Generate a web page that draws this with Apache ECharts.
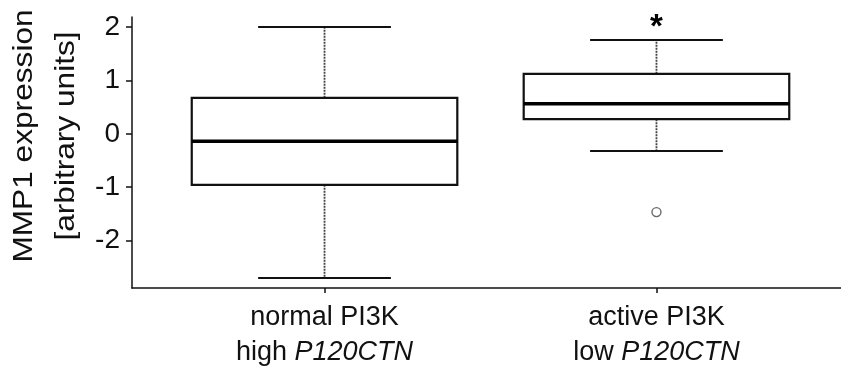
<!DOCTYPE html>
<html>
<head>
<meta charset="utf-8">
<script src="https://cdn.jsdelivr.net/npm/echarts@6/dist/echarts.min.js"></script>
<style>
  html, body { margin: 0; padding: 0; background: #fff; }
  #chart { width: 841px; height: 381px; }
</style>
</head>
<body>
<div id="chart"></div>
<script>
// Group labels: first line, plain start of second line, italic gene symbol
const groupLine1 = ['normal PI3K', 'active PI3K'];
const groupLine2 = ['high ', 'low '];
const groupGene = ['P120CTN', 'P120CTN'];
const groupPos = [1, 2];

// Box summaries per group
const lowerWhisker = [-2.70, -0.324];
const lowerQuartile = [-0.955, 0.275];
const medians = [-0.137, 0.562];
const upperQuartile = [0.674, 1.124];
const upperWhisker = [2.00, 1.755];

// Values beyond the whiskers: [group position, value]
const outliers = [[2, -1.466]];

// Significance marks above the groups: [group position, value, mark]
const signifMarks = [[2, 1.99, '*']];

const yTicks = [-2, -1, 0, 1, 2];

const FONT = '"Liberation Sans", Arial, sans-serif';

// Plot limits padded by 4% on each side, like base R graphics
const xLo = 0.5, xHi = groupPos.length + 0.5;
const xPad = (xHi - xLo) * 0.04;
const yDataMin = Math.min(...lowerWhisker, ...outliers.map(o => o[1]));
const yDataMax = Math.max(...upperWhisker);
const yPad = (yDataMax - yDataMin) * 0.04;

const boxRows = groupPos.map((p, i) => [
  p, lowerWhisker[i], lowerQuartile[i], medians[i], upperQuartile[i], upperWhisker[i]
]);

function renderBox(params, api) {
  const x = api.value(0);
  const pLo = api.coord([x, api.value(1)]);
  const pQ1 = api.coord([x, api.value(2)]);
  const pMd = api.coord([x, api.value(3)]);
  const pQ3 = api.coord([x, api.value(4)]);
  const pHi = api.coord([x, api.value(5)]);
  const cx = pMd[0];
  const boxW = api.size([0.8, 0])[0];
  const capW = api.size([0.4, 0])[0];
  const whisker = { stroke: '#444', lineWidth: 1.8, lineDash: [2, 1] };
  const solid = { stroke: '#111', lineWidth: 2 };
  return {
    type: 'group',
    children: [
      { type: 'line', shape: { x1: cx, y1: pQ3[1], x2: cx, y2: pHi[1] }, style: whisker },
      { type: 'line', shape: { x1: cx, y1: pQ1[1], x2: cx, y2: pLo[1] }, style: whisker },
      { type: 'line', shape: { x1: cx - capW / 2, y1: pHi[1], x2: cx + capW / 2, y2: pHi[1] }, style: solid },
      { type: 'line', shape: { x1: cx - capW / 2, y1: pLo[1], x2: cx + capW / 2, y2: pLo[1] }, style: solid },
      { type: 'rect', shape: { x: cx - boxW / 2, y: pQ3[1], width: boxW, height: pQ1[1] - pQ3[1] },
        style: { fill: '#fff', stroke: '#111', lineWidth: 2.2 } },
      { type: 'line', shape: { x1: cx - boxW / 2, y1: pMd[1], x2: cx + boxW / 2, y2: pMd[1] },
        style: { stroke: '#000', lineWidth: 3.5 } }
    ]
  };
}

function renderMark(params, api) {
  const p = api.coord([api.value(0), api.value(1)]);
  return {
    type: 'text',
    x: p[0],
    y: p[1],
    style: {
      text: signifMarks[params.dataIndex][2],
      font: 'bold 33px ' + FONT,
      fill: '#000',
      align: 'center',
      verticalAlign: 'middle'
    }
  };
}

const chart = echarts.init(document.getElementById('chart'), null, { renderer: 'canvas' });

chart.setOption({
  animation: false,
  backgroundColor: '#fff',
  grid: { left: 132, top: 17, width: 717, bottom: 93, outerBoundsMode: 'none', containLabel: false },
  xAxis: {
    type: 'value',
    min: xLo - xPad,
    max: xHi + xPad,
    splitLine: { show: false },
    axisLine: { show: true, onZero: false, lineStyle: { color: '#111', width: 1.5 } },
    axisTick: { show: true, customValues: groupPos, length: 5, lineStyle: { color: '#111', width: 1.5 } },
    axisLabel: {
      customValues: groupPos,
      margin: 12,
      color: '#111',
      formatter: function (v) {
        const i = groupPos.indexOf(v);
        return '{n|' + groupLine1[i] + '}\n{n|' + groupLine2[i] + '}{i|' + groupGene[i] + '}';
      },
      rich: {
        n: { fontFamily: FONT, fontSize: 27, lineHeight: 35, color: '#111' },
        i: { fontFamily: FONT, fontSize: 27, lineHeight: 35, fontStyle: 'italic', color: '#111' }
      }
    }
  },
  yAxis: {
    type: 'value',
    min: yDataMin - yPad,
    max: yDataMax + yPad,
    splitLine: { show: false },
    axisLine: { show: true, onZero: false, lineStyle: { color: '#111', width: 1.5 } },
    axisTick: { show: true, customValues: yTicks, length: 6, lineStyle: { color: '#111', width: 1.5 } },
    axisLabel: {
      customValues: yTicks,
      margin: 12,
      fontFamily: FONT,
      fontSize: 28,
      color: '#111'
    }
  },
  graphic: [{
    type: 'text',
    x: 45,
    y: 136,
    rotation: Math.PI / 2,
    scaleX: 1.13,
    style: {
      text: 'MMP1 expression\n[arbitrary units]',
      font: '28px ' + FONT,
      lineHeight: 42,
      fill: '#111',
      align: 'center',
      verticalAlign: 'middle'
    }
  }],
  series: [
    {
      type: 'custom',
      renderItem: renderBox,
      data: boxRows,
      encode: { x: 0, y: [1, 2, 3, 4, 5] },
      clip: false
    },
    {
      type: 'scatter',
      data: outliers,
      symbol: 'circle',
      symbolSize: 9,
      itemStyle: { color: '#fff', borderColor: '#444', borderWidth: 1.4 }
    },
    {
      type: 'custom',
      renderItem: renderMark,
      data: signifMarks.map(m => [m[0], m[1]]),
      clip: false
    }
  ]
});
</script>
</body>
</html>
